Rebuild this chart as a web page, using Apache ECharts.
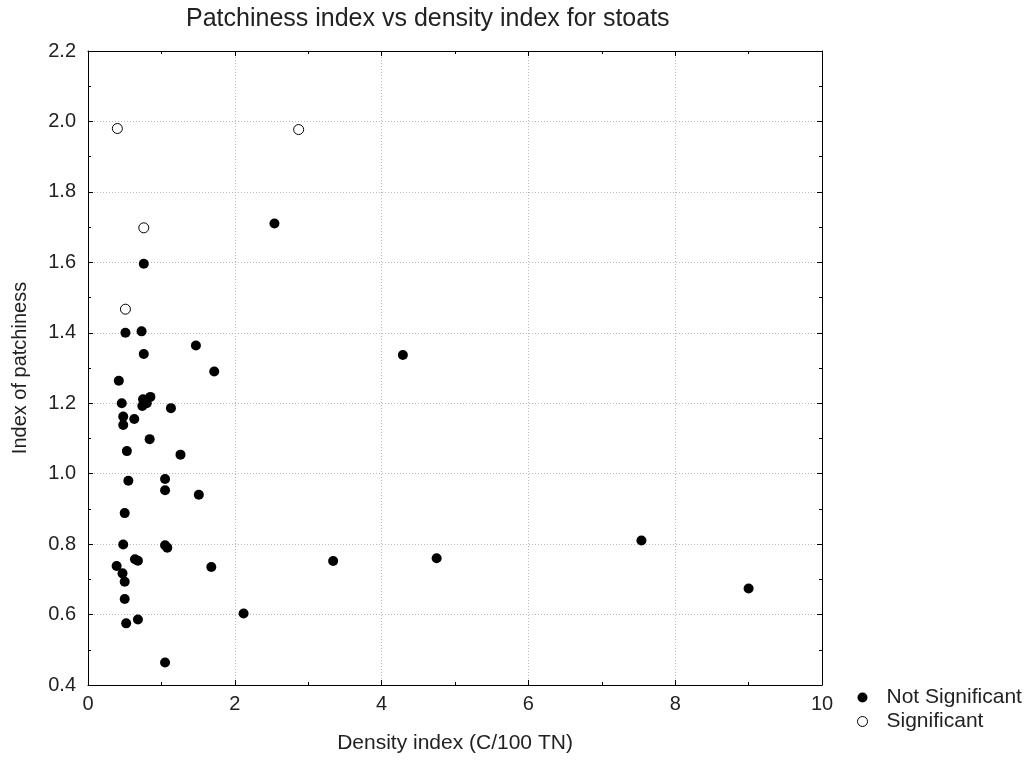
<!DOCTYPE html>
<html>
<head>
<meta charset="utf-8">
<script src="https://cdn.jsdelivr.net/npm/echarts@6/dist/echarts.min.js"></script>
<style>
html,body{margin:0;padding:0;background:#fff;}
#chart{width:1031px;height:760px;}
</style>
</head>
<body>
<div id="chart"></div>
<script>
const titleText = 'Patchiness index vs density index for stoats';
const xName = 'Density index (C/100 TN)';
const yName = 'Index of patchiness';
const seriesNames = ['Not Significant', 'Significant'];

const notSigX = [0.76,0.51,0.73,0.76,1.47,2.54,4.29,1.72,0.42,0.46,0.75,0.85,0.80,0.74,1.13,0.48,0.63,0.48,0.84,0.53,1.26,0.55,1.05,1.05,1.51,0.50,0.48,1.05,1.08,0.64,0.68,0.39,0.47,0.50,0.50,0.52,0.68,2.12,1.05,1.68,3.34,4.75,7.54,9.00];
const notSigY = [1.596,1.400,1.404,1.340,1.364,1.710,1.337,1.290,1.264,1.200,1.211,1.218,1.200,1.192,1.186,1.162,1.155,1.138,1.098,1.064,1.054,0.980,0.985,0.953,0.940,0.888,0.799,0.797,0.790,0.757,0.753,0.738,0.717,0.693,0.644,0.575,0.586,0.603,0.464,0.735,0.752,0.760,0.810,0.674];

const sigX = [0.40,2.87,0.76,0.51];
const sigY = [1.980,1.977,1.698,1.467];

const xMin = 0, xMax = 10, xStep = 2;
const yMin = 0.4, yMax = 2.2, yStep = 0.2;

const zip = (a, b) => a.map((v, i) => [v, b[i]]);

const FONT = '"Liberation Sans", Arial, sans-serif';
const TXT = '#222';
const axisLine = {show: true, onZero: false, lineStyle: {color: '#000', width: 1}};
const tick = {show: true, inside: true, length: 5, lineStyle: {color: '#000'}};
const minor = {show: true, splitNumber: 2, length: 3, lineStyle: {color: '#000'}};
const grid = {type: [1, 2], color: '#b8b8b8', width: 1};

const chart = echarts.init(document.getElementById('chart'));
chart.setOption({
  backgroundColor: '#fff',
  animation: false,
  title: {
    text: titleText, left: 181, top: 2,
    textStyle: {fontFamily: FONT, fontSize: 25, fontWeight: 'normal', color: TXT}
  },
  grid: {left: 88, top: 51, width: 734, height: 634},
  legend: {
    orient: 'vertical', left: 852, top: 682, itemWidth: 10, itemHeight: 10, itemGap: 3,
    textStyle: {fontFamily: FONT, fontSize: 21, color: TXT, padding: [0, 0, 0, 14]},
    data: [
      {name: seriesNames[0], icon: 'circle', itemStyle: {color: '#000', borderWidth: 0}},
      {name: seriesNames[1], icon: 'circle', itemStyle: {color: '#fff', borderColor: '#000', borderWidth: 1}}
    ]
  },
  xAxis: [
    {
      type: 'value', position: 'bottom', min: xMin, max: xMax, interval: xStep,
      axisLine: axisLine, axisTick: tick, minorTick: minor,
      splitLine: {show: true, lineStyle: grid},
      axisLabel: {fontFamily: FONT, fontSize: 20, color: TXT, margin: 9},
      name: xName, nameLocation: 'middle', nameGap: 48,
      nameTextStyle: {fontFamily: FONT, fontSize: 21, color: TXT}
    },
    {
      type: 'value', position: 'top', min: xMin, max: xMax, interval: xStep,
      axisLine: axisLine, axisTick: tick, minorTick: minor,
      splitLine: {show: false}, axisLabel: {show: false}
    }
  ],
  yAxis: [
    {
      type: 'value', position: 'left', min: yMin, max: yMax, interval: yStep,
      axisLine: axisLine, axisTick: tick, minorTick: minor,
      splitLine: {show: true, lineStyle: grid},
      axisLabel: {fontFamily: FONT, fontSize: 20, color: TXT, margin: 12,
        formatter: v => v.toFixed(1)},
      name: yName, nameLocation: 'middle', nameGap: 58, nameRotate: 90,
      nameTextStyle: {fontFamily: FONT, fontSize: 20, color: TXT}
    },
    {
      type: 'value', position: 'right', min: yMin, max: yMax, interval: yStep,
      axisLine: axisLine, axisTick: tick, minorTick: minor,
      splitLine: {show: false}, axisLabel: {show: false}
    }
  ],
  series: [
    {
      name: seriesNames[0], type: 'scatter', xAxisIndex: 0, yAxisIndex: 0,
      symbol: 'circle', symbolSize: 10,
      itemStyle: {color: '#000', opacity: 1},
      data: zip(notSigX, notSigY)
    },
    {
      name: seriesNames[1], type: 'scatter', xAxisIndex: 0, yAxisIndex: 0,
      symbol: 'circle', symbolSize: 10,
      itemStyle: {color: '#fff', borderColor: '#000', borderWidth: 1, opacity: 1},
      data: zip(sigX, sigY)
    }
  ]
});
</script>
</body>
</html>
